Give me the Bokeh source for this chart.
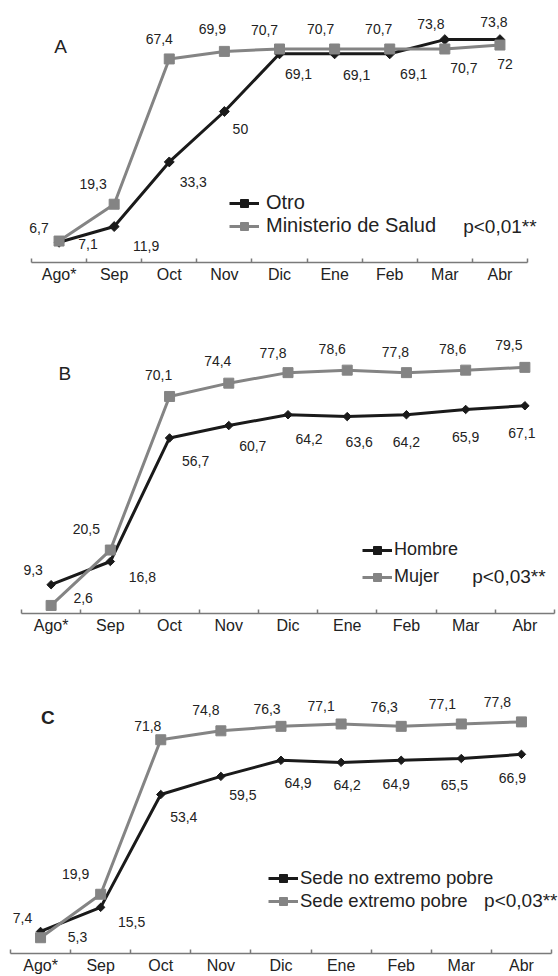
import numpy as np
from bokeh.plotting import figure
from bokeh.models import Range1d, FixedTicker, Legend, LegendItem, Label, ColumnDataSource
from bokeh.layouts import column
from bokeh.embed import file_html
from bokeh.resources import INLINE
from bokeh.core.properties import value

# ---------------- data ----------------
months = ["Ago*", "Sep", "Oct", "Nov", "Dic", "Ene", "Feb", "Mar", "Abr"]

a_names = ["Otro", "Ministerio de Salud"]
a_otro = [6.7, 11.9, 33.3, 50, 69.1, 69.1, 69.1, 73.8, 73.8]
a_minsa = [7.1, 19.3, 67.4, 69.9, 70.7, 70.7, 70.7, 70.7, 72]
a_p = "p<0,01**"

b_names = ["Hombre", "Mujer"]
b_hombre = [9.3, 16.8, 56.7, 60.7, 64.2, 63.6, 64.2, 65.9, 67.1]
b_mujer = [2.6, 20.5, 70.1, 74.4, 77.8, 78.6, 77.8, 78.6, 79.5]
b_p = "p<0,03**"

c_names = ["Sede no extremo pobre", "Sede extremo pobre"]
c_no_pobre = [7.4, 15.5, 53.4, 59.5, 64.9, 64.2, 64.9, 65.5, 66.9]
c_pobre = [5.3, 19.9, 71.8, 74.8, 76.3, 77.1, 76.3, 77.1, 77.8]
c_p = "p<0,03**"

# label placement (screen px offsets, +y = down)
a_dark_off = [(-20, -14), (32, 19), (24, 20), (16, 17), (19, 20), (22, 21), (24, 20), (-14, -16), (-6, -18)]
a_grey_off = [(29, 3), (-21, -20), (-10, -20), (-12, -22), (-15, -19), (-14, -20), (-11, -20), (19, 19), (5, 19)]
b_dark_off = [(-18, -15), (32, 16), (26, 23), (24, 20), (21, 24), (12, 25), (0, 27), (0, 28), (-3, 27)]
b_grey_off = [(32, -7), (-24, -21), (-11, -21), (-11, -22), (-15, -20), (-15, -21), (-11, -21), (-13, -21), (-16, -22)]
c_dark_off = [(-18, -13), (31, 15), (23, 22), (22, 19), (17, 23), (6, 23), (-5, 24), (-7, 26), (-9, 24)]
c_grey_off = [(37, -1), (-25, -20), (-13, -14), (-15, -21), (-14, -17), (-20, -18), (-17, -19), (-19, -20), (-24, -20)]

FONT = "Liberation Sans"
DARK = "#1a1a1a"
GREY = "#848484"
TXT = "#222222"
AXIS = "#7a7a7a"
W = 558


def fmt(v):
    return f"{v:g}".replace(".", ",")


def panel(h, axis_px, px_per_unit, x_lr, dark, grey, dark_off, grey_off, names, letter,
          letter_xy, bold, ptext, p_xy, leg_loc, leg_font, leg_standoff, leg_spacing,
          diamond_size):
    n = len(months)
    L, R = x_lr
    ppc = (R - L) / n
    xs = [i + 0.5 for i in range(n)]
    bottom = h - axis_px
    p = figure(width=W, height=h,
               x_range=Range1d(-L / ppc, n + (W - R) / ppc),
               y_range=Range1d(0, axis_px / px_per_unit),
               output_backend="svg", toolbar_location=None, y_axis_location=None,
               min_border_left=0, min_border_right=0,
               min_border_top=0, min_border_bottom=bottom)
    p.outline_line_color = None
    p.grid.visible = False
    ax = p.xaxis[0]
    ax.bounds = (0, n)
    ax.ticker = FixedTicker(ticks=xs, minor_ticks=list(range(n + 1)))
    ax.major_label_overrides = {x: m for x, m in zip(xs, months)}
    ax.major_tick_line_color = None
    ax.major_tick_in = 0
    ax.major_tick_out = 0
    ax.minor_tick_in = 4
    ax.minor_tick_out = 0
    ax.minor_tick_line_color = AXIS
    ax.minor_tick_line_width = 1.5
    ax.axis_line_color = AXIS
    ax.axis_line_width = 1.5
    ax.major_label_standoff = 3
    ax.major_label_text_font = FONT
    ax.major_label_text_font_size = "16px"
    ax.major_label_text_color = TXT

    l1 = p.line(xs, dark, line_color=DARK, line_width=3)
    s1 = p.scatter(xs, dark, marker="square", angle=np.pi / 4, size=diamond_size,
                   fill_color=DARK, line_color=DARK)
    l2 = p.line(xs, grey, line_color=GREY, line_width=3)
    s2 = p.scatter(xs, grey, marker="square", size=10, fill_color=GREY, line_color=GREY)

    for vals, off in ((dark, dark_off), (grey, grey_off)):
        src = ColumnDataSource(dict(x=xs, y=vals, t=[fmt(v) for v in vals],
                                    dx=[o[0] for o in off], dy=[o[1] for o in off]))
        p.text(x="x", y="y", text="t", x_offset="dx", y_offset="dy", source=src,
               text_font=value(FONT), text_font_size="14px", text_color=TXT,
               text_align="center", text_baseline="middle")

    leg = Legend(items=[LegendItem(label=names[0], renderers=[l1, s1]),
                        LegendItem(label=names[1], renderers=[l2, s2])],
                 location=leg_loc, orientation="vertical", glyph_width=30, glyph_height=20,
                 label_height=20, label_standoff=leg_standoff, spacing=leg_spacing,
                 padding=0, margin=0, border_line_color=None, background_fill_alpha=0,
                 label_text_font=FONT, label_text_font_size=leg_font, label_text_color=TXT)
    p.add_layout(leg)

    p.add_layout(Label(x=letter_xy[0], y=letter_xy[1], text=letter, text_font=FONT,
                       text_font_size="19px", text_color=TXT, text_align="center",
                       text_baseline="middle", text_font_style="bold" if bold else "normal"))
    p.add_layout(Label(x=p_xy[0], y=p_xy[1], text=ptext, text_font=FONT,
                       text_font_size="19px", text_color=TXT, text_align="right",
                       text_baseline="middle"))
    return p


pa = panel(330, 262, 3.02, (31, 527), a_otro, a_minsa, a_dark_off, a_grey_off, a_names,
           "A", (0.53, 71.5), False, a_p, (9.165, 11.9), (229, 25), "20px", 7, 0, 7)
pb = panel(330, 283, 3.096, (21, 554), b_hombre, b_mujer, b_dark_off, b_grey_off, b_names,
           "B", (0.73, 77.5), False, b_p, (8.85, 12), (362, 26), "18px", 2, 6, 6)
pc = panel(316, 293, 2.977, (10, 551), c_no_pobre, c_pobre, c_dark_off, c_grey_off, c_names,
           "C", (0.62, 79.3), True, c_p, (9.1, 17.8), (268, 41), "18.5px", 2, 1, 6)

layout = column(pa, pb, pc, spacing=0)
open("out.html", "w").write(file_html(layout, INLINE))
